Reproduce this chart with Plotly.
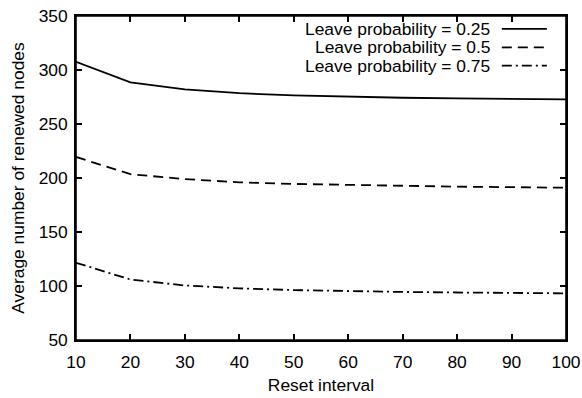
import plotly.graph_objects as go

reset_interval = [10, 20, 30, 40, 50, 60, 70, 80, 90, 100]
leave_025 = [307.5, 288.5, 282, 278.5, 276.5, 275.3, 274.3, 273.7, 273.2, 272.8]
leave_050 = [219.5, 203.5, 199, 196, 194.5, 193.5, 192.7, 192, 191.5, 191]
leave_075 = [121.5, 106, 100.5, 97.8, 96.2, 95.2, 94.5, 94, 93.5, 93.2]

series_names = ["Leave probability = 0.25", "Leave probability = 0.5", "Leave probability = 0.75"]
series_values = [leave_025, leave_050, leave_075]
dashes = ["solid", "10px,6px", "10px,4px,2px,4px"]

x_ticks = [10, 20, 30, 40, 50, 60, 70, 80, 90, 100]
y_ticks = [50, 100, 150, 200, 250, 300, 350]
x_range = [10, 100]
y_range = [50, 350]

FONT = "Liberation Sans, Arial, sans-serif"
FS = 17.4

fig = go.Figure()
for name, vals, dash in zip(series_names, series_values, dashes):
    fig.add_trace(go.Scatter(x=reset_interval, y=vals, mode="lines", name=name,
                             line=dict(color="black", width=1.8, dash=dash),
                             showlegend=False))
# empty trace that activates the top / right frame axes
fig.add_trace(go.Scatter(x=[], y=[], xaxis="x2", yaxis="y2", showlegend=False,
                         hoverinfo="skip"))

# legend drawn gnuplot-style: right aligned text, sample line to the right
leg_y = [0.960, 0.903, 0.847]
for name, dash, yy in zip(series_names, dashes, leg_y):
    fig.add_annotation(x=0.848, y=yy, xref="paper", yref="paper", text=name,
                       showarrow=False, xanchor="right", yanchor="middle",
                       font=dict(family=FONT, size=FS, color="black"))
    fig.add_shape(type="line", xref="paper", yref="paper", x0=0.869, x1=0.961,
                  y0=yy, y1=yy, line=dict(color="black", width=1.8, dash=dash))

# plot frame
fig.add_shape(type="rect", xref="paper", yref="paper", x0=0, x1=1, y0=0, y1=1,
              line=dict(color="black", width=1.6), layer="above")

axis_common = dict(showgrid=False, zeroline=False, showline=True, linecolor="black",
                   linewidth=1.6, mirror=False, ticks="inside", ticklen=6,
                   tickwidth=1.6, tickcolor="black", automargin=False,
                   tickfont=dict(family=FONT, size=FS, color="black"))

fig.update_layout(
    xaxis=dict(range=x_range, tickvals=x_ticks,
               title=dict(text="Reset interval", font=dict(family=FONT, size=FS, color="black"), standoff=8),
               ticklabelstandoff=5, **axis_common),
    yaxis=dict(range=y_range, tickvals=y_ticks,
               title=dict(text="Average number of renewed nodes", font=dict(family=FONT, size=FS, color="black"), standoff=10),
               ticklabelstandoff=3, **axis_common),
    xaxis2=dict(range=x_range, tickvals=x_ticks, overlaying="x", side="top",
                showticklabels=False, **axis_common),
    yaxis2=dict(range=y_range, tickvals=y_ticks, overlaying="y", side="right",
                showticklabels=False, **axis_common),
    width=582, height=398, margin=dict(l=76, r=16, t=16, b=58),
    plot_bgcolor="white", paper_bgcolor="white",
    font=dict(family=FONT, color="black"))

# remove the default page margin so the figure sits at the window's corner
fig.write_html("out.html", config={"displayModeBar": False},
               post_script="document.body.style.margin='0';document.body.style.overflow='hidden';")
